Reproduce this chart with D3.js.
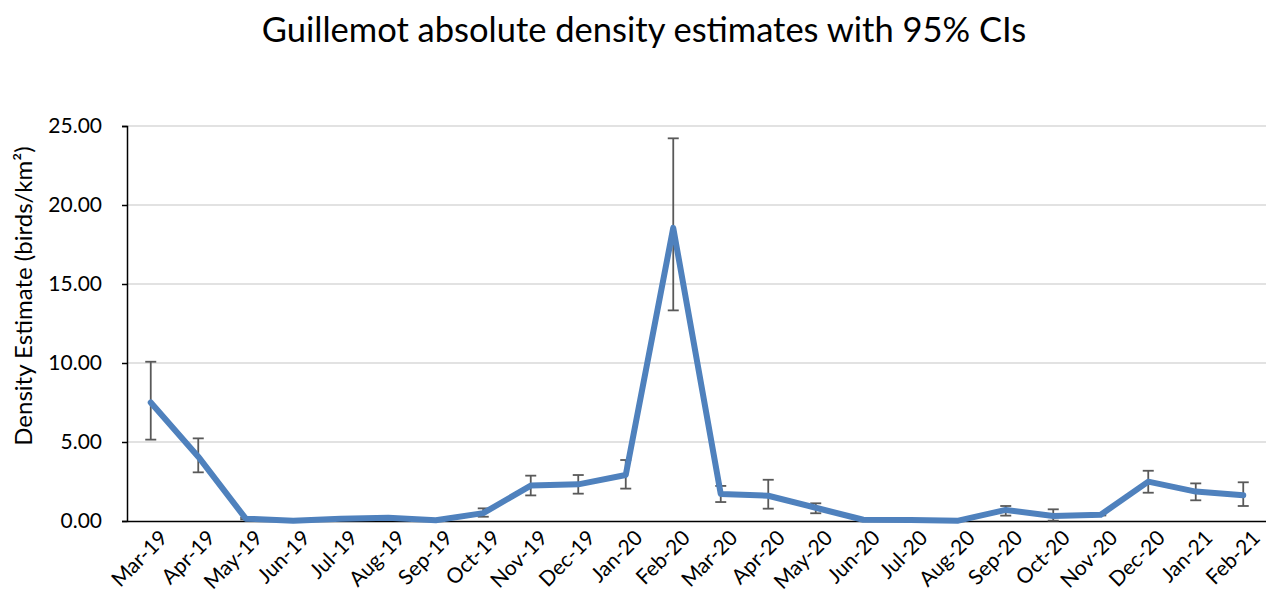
<!DOCTYPE html>
<html><head><meta charset="utf-8">
<script src="https://cdn.jsdelivr.net/npm/d3@7"></script>
<style>body{margin:0;background:#fff;} svg{display:block;font-family:Lato,"Noto Sans",sans-serif;}</style>
</head><body>
<svg id="chart" width="1266" height="606"></svg>
<script>
const months = ["Mar-19","Apr-19","May-19","Jun-19","Jul-19","Aug-19","Sep-19","Oct-19","Nov-19","Dec-19","Jan-20","Feb-20","Mar-20","Apr-20","May-20","Jun-20","Jul-20","Aug-20","Sep-20","Oct-20","Nov-20","Dec-20","Jan-21","Feb-21"];
const density = [7.5,4.07,0.15,0.02,0.15,0.2,0.05,0.5,2.24,2.32,2.91,18.55,1.71,1.6,0.84,0.08,0.07,0.02,0.7,0.32,0.4,2.49,1.86,1.63];
const ciLow  = [5.15,3.08,0.1,0.0,0.1,0.12,0.02,0.27,1.62,1.73,2.05,13.33,1.2,0.78,0.49,0.05,0.04,0.0,0.34,0.02,0.35,1.79,1.31,0.95];
const ciHigh = [10.08,5.23,0.2,0.04,0.22,0.3,0.08,0.8,2.87,2.91,3.86,24.22,2.22,2.61,1.12,0.1,0.1,0.04,0.95,0.74,0.45,3.18,2.38,2.45];
const yTicks = [0,5,10,15,20,25];

(function(){
const svg = d3.select("#chart");
const mLeft = 127, mRight = 1267, mTop = 126, mBottom = 521;
const x = d3.scaleBand().domain(months).range([mLeft, mRight]);
const y = d3.scaleLinear().domain([0,25]).range([mBottom, mTop]);
const cx = d => x(d) + x.bandwidth()/2;

// gridlines
svg.append("g").selectAll("line").data(yTicks.slice(1)).join("line")
  .attr("x1", mLeft).attr("x2", mRight)
  .attr("y1", d=>y(d)).attr("y2", d=>y(d))
  .attr("stroke", "#d9d9d9").attr("stroke-width", 1.3);

// y axis
const yAxis = svg.append("g").attr("transform", `translate(${mLeft},0)`)
  .call(d3.axisLeft(y).tickValues(yTicks).tickFormat(d3.format(".2f")).tickSize(5).tickPadding(20));
yAxis.select(".domain").attr("stroke","#000").attr("stroke-width",1.5);
yAxis.selectAll(".tick line").attr("stroke","#000").attr("stroke-width",1.5);
yAxis.selectAll("text").attr("font-size", 21).attr("fill","#000").attr("font-family","Lato, 'Noto Sans', sans-serif");

// x axis
const xAxis = svg.append("g").attr("transform", `translate(0,${mBottom})`)
  .call(d3.axisBottom(x).tickSize(0).tickPadding(10));
xAxis.select(".domain").attr("stroke","#000").attr("stroke-width",1.5);
xAxis.selectAll("text")
  .attr("font-size", 21).attr("fill","#000").attr("font-family","Lato, 'Noto Sans', sans-serif")
  .attr("text-anchor","end")
  .attr("transform","translate(0,0) rotate(-45)")
  .attr("dx","0").attr("dy","0.75em");

// error bars
const eb = svg.append("g").attr("stroke","#595959").attr("stroke-width",1.8).attr("fill","none");
months.forEach((m,i) => {
  const px = cx(m);
  eb.append("line").attr("x1",px).attr("x2",px).attr("y1",y(ciLow[i])).attr("y2",y(ciHigh[i]));
  eb.append("line").attr("x1",px-5.5).attr("x2",px+5.5).attr("y1",y(ciLow[i])).attr("y2",y(ciLow[i]));
  eb.append("line").attr("x1",px-5.5).attr("x2",px+5.5).attr("y1",y(ciHigh[i])).attr("y2",y(ciHigh[i]));
});

// line
const line = d3.line().x((d,i)=>cx(months[i])).y(d=>y(d));
svg.append("path").datum(density)
  .attr("d", line).attr("fill","none")
  .attr("stroke","#4f81bd").attr("stroke-width",6)
  .attr("stroke-linejoin","round").attr("stroke-linecap","round");

// title
svg.append("text").attr("x", 644).attr("y", 42).attr("text-anchor","middle")
  .attr("font-size", 34.5).attr("fill","#000").text("Guillemot absolute density estimates with 95% CIs");

// y label
svg.append("text").attr("transform","translate(32,296) rotate(-90)").attr("text-anchor","middle")
  .attr("font-size", 24).attr("fill","#000")
  .text("Density Estimate (birds/km²)");
})();
</script>
</body></html>
